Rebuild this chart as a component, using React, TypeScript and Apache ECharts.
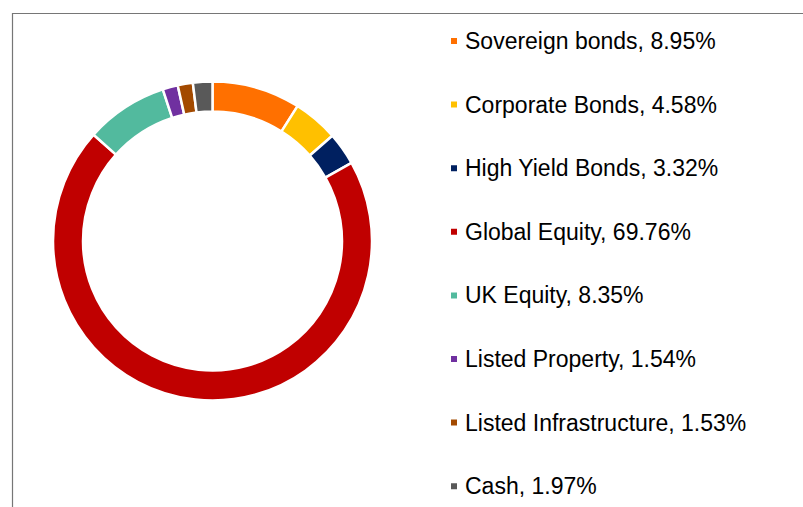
import React, { useEffect, useRef } from "react";
import * as echarts from "echarts";

const categories = [
  "Sovereign bonds",
  "Corporate Bonds",
  "High Yield Bonds",
  "Global Equity",
  "UK Equity",
  "Listed Property",
  "Listed Infrastructure",
  "Cash",
];
const values = [8.95, 4.58, 3.32, 69.76, 8.35, 1.54, 1.53, 1.97];
const colors = [
  "#FF7000",
  "#FFC000",
  "#002060",
  "#C00000",
  "#52BA9E",
  "#7030A0",
  "#A34A00",
  "#595959",
];

export default function App() {
  const ref = useRef<HTMLDivElement>(null);
  useEffect(() => {
    if (!ref.current) return;
    const chart = echarts.init(ref.current, undefined, { renderer: "svg" });
    const data = categories.map((name, i) => ({
      name,
      value: values[i],
      itemStyle: { color: colors[i] },
    }));
    chart.setOption({
      animation: false,
      backgroundColor: "#ffffff",
      graphic: [
        {
          type: "rect",
          shape: { x: 12.5, y: 13.5, width: 1200, height: 1200 },
          style: { fill: "none", stroke: "#767676", lineWidth: 1.2 },
          silent: true,
        },
      ],
      legend: {
        orient: "vertical",
        left: 449,
        top: 29,
        height: 478,
        padding: 0,
        icon: "rect",
        itemWidth: 8,
        itemHeight: 8,
        itemGap: 39.6,
        selectedMode: false,
        formatter: (name: string) => {
          const i = categories.indexOf(name);
          return `${name}, ${values[i].toFixed(2)}%`;
        },
        textStyle: {
          fontFamily: "Liberation Sans, Arial, sans-serif",
          fontSize: 23,
          color: "#000000",
          lineHeight: 24,
          padding: [0, 0, 0, 2],
        },
        data: categories,
      },
      series: [
        {
          type: "pie",
          center: [212.5, 241],
          radius: [129.5, 159.5],
          startAngle: 90,
          clockwise: true,
          label: { show: false },
          labelLine: { show: false },
          emphasis: { disabled: true },
          itemStyle: { borderColor: "#ffffff", borderWidth: 2.5 },
          data,
        },
      ],
    });
    return () => chart.dispose();
  }, []);
  return (
    <div
      ref={ref}
      style={{ position: "fixed", left: 0, top: 0, width: 803, height: 507 }}
    />
  );
}
